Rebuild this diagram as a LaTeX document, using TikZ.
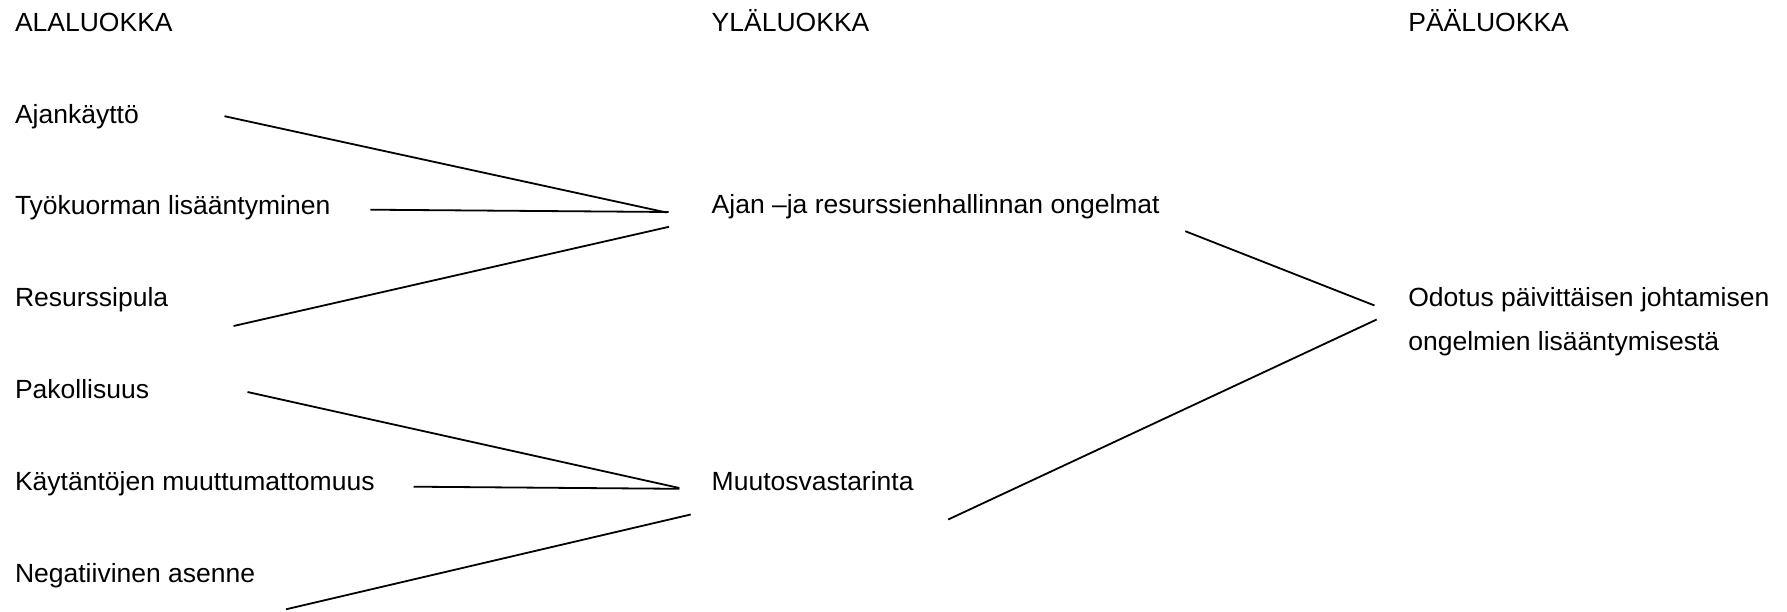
\documentclass[tikz,border=0pt]{standalone}
\usepackage{fontspec}
\setmainfont{Liberation Sans}[FakeStretch=1.008]
\begin{document}
\begin{tikzpicture}[x=1pt,y=-1pt,
  label/.style={anchor=base west,inner sep=0pt,outer sep=0pt,
    font=\fontsize{26.3}{31}\selectfont,text=black},
  link/.style={draw=black,line width=1.8pt}]
\useasboundingbox (0,0) rectangle (1787,612);
\fill[white] (0,0) rectangle (1787,612);

% column headings
\node[label] (hA) at (15,31.7) {ALALUOKKA};
\node[label] (hY) at (711.7,31.7) {YLÄLUOKKA};
\node[label] (hP) at (1408.3,31.7) {PÄÄLUOKKA};

% sub-categories
\node[label] (s1) at (15,123.3) {Ajankäyttö};
\node[label] (s2) at (15,215) {Työkuorman lisääntyminen};
\node[label] (s3) at (15,306.7) {Resurssipula};
\node[label] (s4) at (15,398.5) {Pakollisuus};
\node[label] (s5) at (15,490.3) {Käytäntöjen muuttumattomuus};
\node[label] (s6) at (15,582) {Negatiivinen asenne};

% upper categories
\node[label] (u1) at (711.7,214) {Ajan –ja resurssienhallinnan ongelmat};
\node[label] (u2) at (711.7,490.5) {Muutosvastarinta};

% main category
\node[label] (m1) at (1408.3,306.7) {Odotus päivittäisen johtamisen};
\node[label] (m1b) at (1408.3,350) {ongelmien lisääntymisestä};

% connector end points
\coordinate (s1e) at (224.5,116.2);
\coordinate (s2e) at (370.4,209.7);
\coordinate (s3e) at (233.6,326);
\coordinate (s4e) at (247.5,392);
\coordinate (s5e) at (413.5,486.7);
\coordinate (s6e) at (286,609.3);
\coordinate (u1a) at (666.5,212.5);
\coordinate (u1b) at (668.5,212);
\coordinate (u1c) at (669,226.8);
\coordinate (u1r) at (1185.3,231.2);
\coordinate (u2a) at (679.3,488);
\coordinate (u2b) at (679.3,488.8);
\coordinate (u2c) at (690.7,514.5);
\coordinate (u2r) at (948.2,519.5);
\coordinate (m1a) at (1374.5,305.5);
\coordinate (m1c) at (1376.7,319.5);

% sub-categories to upper categories
\draw[link] (s1e) -- (u1a);
\draw[link] (s2e) -- (u1b);
\draw[link] (s3e) -- (u1c);
\draw[link] (s4e) -- (u2a);
\draw[link] (s5e) -- (u2b);
\draw[link] (s6e) -- (u2c);

% upper categories to main category
\draw[link] (u1r) -- (m1a);
\draw[link] (u2r) -- (m1c);
\end{tikzpicture}
\end{document}
